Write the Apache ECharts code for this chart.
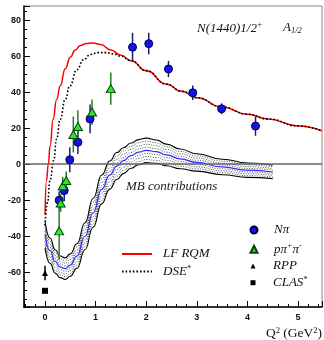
<!DOCTYPE html>
<html><head><meta charset="utf-8">
<script src="https://cdn.jsdelivr.net/npm/echarts@6/dist/echarts.min.js"></script>
<style>html,body{margin:0;padding:0;background:#fff}#c{width:324px;height:340px}</style>
</head><body><div id="c"></div>
<script>
// ---- data ----
const lfRqmQ2 = [0, 0.03, 0.065, 0.1, 0.16, 0.23, 0.3, 0.4, 0.5, 0.6, 0.7, 0.8, 0.95, 1.1, 1.3, 1.5, 1.7, 2.0, 2.4, 2.7, 3.0, 3.5, 4.0, 4.4, 5.0, 5.47];
const lfRqm   = [-28, -9, 0, 10, 25, 36, 43.5, 53, 59.5, 63.5, 66, 67, 67.3, 66.5, 63.5, 60.5, 57.5, 52, 44.5, 40.5, 37, 31.8, 27.8, 25.2, 21.3, 18.6];

const dseQ2 = [0, 0.05, 0.1, 0.17, 0.23, 0.3, 0.4, 0.49, 0.63, 0.76, 0.9, 1.05, 1.2, 1.35, 1.5, 1.7, 2.0, 2.4, 2.7, 3.0, 3.5, 4.0, 4.4, 5.0, 5.47];
const dse   = [-34, -21, -9, 2, 14, 25, 36, 43.5, 52.5, 58, 61, 62, 62, 61.3, 60, 57.5, 52, 44.5, 40.5, 37, 31.8, 27.8, 25.2, 21.3, 18.6];

const mbQ2        = [0, 0.1, 0.2, 0.3, 0.4, 0.5, 0.63, 0.79, 0.95, 1.12, 1.28, 1.42, 1.55, 1.7, 1.85, 2.0, 2.2, 2.4, 2.67, 3.0, 3.5, 4.0, 4.5];
const mbCentral   = [-39, -48, -54, -57, -58, -56, -51, -40, -27, -14, -6, -1, 2, 4.8, 6.7, 7.7, 7, 5.2, 3, 1, -1.5, -3.3, -4.3];
const mbHalfWidth = [7.5, 7, 6.5, 6, 6, 6.2, 6.8, 7.5, 8, 8, 7.8, 7.5, 7.2, 7, 7, 6.8, 6.5, 6, 5.5, 4.8, 4.3, 4, 3.7];

const npiQ2  = [0.28, 0.38, 0.49, 0.65, 0.89, 1.73, 2.05, 2.44, 2.92, 3.49, 4.16];
const npiA   = [-20, -14.6, 2.5, 12.2, 25.2, 65, 67, 52.9, 39.7, 30.8, 21.2];
const npiErr = [5, 6, 7, 6.5, 8, 8, 6, 4.5, 4, 3, 5.4];

const ppipiQ2  = [0.28, 0.31, 0.35, 0.42, 0.56, 0.65, 0.93, 1.30];
const ppipiA   = [-37, -21.5, -12, -9, 16.5, 21, 29, 42];
const ppipiErr = [16, 5, 5, 5, 10, 9, 7, 9];

const rppQ2 = [0];
const rppA = [-60.4];
const rppErr = [4];

const clasQ2 = [0];
const clasA = [-70.3];

// ---- build ----
const pairs = (xs, ys) => xs.map((x, i) => [x, ys[i]]);
const triples = (xs, ys, es) => xs.map((x, i) => [x, ys[i], es[i]]);

const serif = 'Liberation Serif';
const ink = '#111';

const bandSeries = [];
[-1, -0.75, -0.5, -0.25, 0, 0.25, 0.5, 0.75, 1].forEach((f, k) => {
  const outer = Math.abs(f) === 1;
  const centre = f === 0;
  bandSeries.push({
    type: 'line', name: 'mb' + k, silent: true, symbol: 'none', smooth: 0.5, smoothMonotone: 'x', z: 2,
    data: mbQ2.map((q, i) => [q, mbCentral[i] + f * mbHalfWidth[i]]),
    lineStyle: centre ? { color: '#2a2aff', width: 1.2 } :
      outer ? { color: '#000', width: 1.1 } : { color: '#222', width: 0.8, type: [1, 1.5] }
  });
});
bandSeries[0].markLine = {
  silent: true, symbol: 'none', label: { show: false }, animation: false,
  lineStyle: { color: '#666', width: 1.5, type: 'solid' }, data: [{ yAxis: 0 }]
};

function errSeries(name, data, color) {
  return {
    type: 'custom', name, data, z: 4, silent: true, encode: { x: 0, y: 1 },
    renderItem: (params, api) => {
      const x = api.value(0), y = api.value(1), e = api.value(2);
      const a = api.coord([x, y + e]), b = api.coord([x, y - e]);
      return { type: 'line', shape: { x1: a[0], y1: a[1], x2: b[0], y2: b[1] }, style: { stroke: color, lineWidth: 1.5 } };
    }
  };
}

const legendText = () => ({
  fontFamily: serif, fontStyle: 'italic', fontSize: 13, color: ink, lineHeight: 14,
  rich: {
    t: { fontFamily: serif, fontStyle: 'italic', fontSize: 13, color: ink, lineHeight: 14 },
    sup: { fontFamily: serif, fontStyle: 'italic', fontSize: 8, color: ink, lineHeight: 8, verticalAlign: 'top' }
  }
});
const legendFmt = (n) => ({
  'Nπ': '{t|Nπ}', 'pπ+π-': '{t|pπ}{sup|+}{t|π}{sup|-}', 'RPP': '{t|RPP}', 'CLAS*': '{t|CLAS}{sup|*}',
  'LF RQM': '{t|LF RQM}', 'DSE*': '{t|DSE}{sup|*}'
}[n] || n);

const option = {
  animation: false,
  grid: { left: 24, right: 2, top: 6, bottom: 33, show: true, borderColor: '#888', borderWidth: 1, outerBoundsMode: 'none' },
  xAxis: {
    type: 'value', min: -0.415, max: 5.474, splitNumber: 5,
    axisLine: { show: true, onZero: false, lineStyle: { color: '#000', width: 1.5 } },
    axisTick: { inside: true, length: 6, lineStyle: { color: '#000', width: 1 } },
    minorTick: { show: true, splitNumber: 5, length: 3, lineStyle: { color: '#000', width: 1 } },
    splitLine: { show: false },
    axisLabel: { showMinLabel: false, showMaxLabel: false, fontFamily: 'Liberation Sans', fontWeight: 'bold', fontSize: 9, color: ink, margin: 6 },
    name: '{r|Q}{s|2}{r| (GeV}{s|2}{r|)}', nameLocation: 'end', nameGap: 0, nameMoveOverlap: false,
    nameTextStyle: {
      align: 'right', verticalAlign: 'top', padding: [19, 0, 0, 0],
      rich: {
        r: { fontFamily: serif, fontSize: 13.5, color: ink, lineHeight: 14 },
        s: { fontFamily: serif, fontSize: 8.5, color: ink, lineHeight: 8, verticalAlign: 'top' }
      }
    }
  },
  yAxis: {
    type: 'value', min: -79.3, max: 87.9, splitNumber: 8,
    axisLine: { show: true, onZero: false, lineStyle: { color: '#000', width: 1.5 } },
    axisTick: { inside: true, length: 6, lineStyle: { color: '#000', width: 1 } },
    minorTick: { show: true, splitNumber: 4, length: 3, lineStyle: { color: '#000', width: 1 } },
    splitLine: { show: false },
    axisLabel: { showMinLabel: false, showMaxLabel: false, fontFamily: 'Liberation Sans', fontWeight: 'bold', fontSize: 9, color: ink, margin: 3 }
  },
  legend: [
    { data: [{ name: 'LF RQM', itemStyle: { opacity: 0 } }, { name: 'DSE*', itemStyle: { opacity: 0 } }],
      orient: 'vertical', left: 121, top: 247, padding: 0, itemWidth: 30, itemHeight: 10, itemGap: 3.4, selectedMode: false,
      formatter: legendFmt, textStyle: Object.assign(legendText(), { padding: [0, 0, 0, 6] }) },
    { data: ['Nπ', 'pπ+π-'], orient: 'vertical', left: 249.5, top: 223, padding: 0, itemWidth: 7, itemHeight: 7, itemGap: 5.3, selectedMode: false,
      formatter: legendFmt, textStyle: Object.assign(legendText(), { padding: [0, 0, 0, 11.5] }) },
    { data: ['RPP', 'CLAS*'], orient: 'vertical', left: 250.5, top: 259, padding: 0, itemWidth: 5, itemHeight: 5, itemGap: 2.7, selectedMode: false,
      formatter: legendFmt, textStyle: Object.assign(legendText(), { padding: [0, 0, 0, 12.5] }) }
  ],
  graphic: [
    { type: 'text', left: 197, top: 21, silent: true, style: { text: '{m|N(1440)1/2}{s|+}', rich: {
      m: { fontFamily: serif, fontStyle: 'italic', fontSize: 13, fill: ink, lineHeight: 16 },
      s: { fontFamily: serif, fontStyle: 'italic', fontSize: 8, fill: ink, lineHeight: 9, verticalAlign: 'top' } } } },
    { type: 'text', left: 283, top: 21, silent: true, style: { text: '{m|A}{b|1/2}', rich: {
      m: { fontFamily: serif, fontStyle: 'italic', fontSize: 13, fill: ink, lineHeight: 16 },
      b: { fontFamily: serif, fontStyle: 'italic', fontSize: 8.5, fill: ink, lineHeight: 9, verticalAlign: 'bottom' } } } },
    { type: 'text', left: 126, top: 180, silent: true, style: { text: 'MB contributions',
      font: 'italic 13px "Liberation Serif"', fill: '#222' } }
  ],
  series: [
    ...bandSeries,
    { type: 'line', name: 'LF RQM', data: pairs(lfRqmQ2, lfRqm), symbol: 'none', smooth: 0.5, smoothMonotone: 'x', z: 3,
      lineStyle: { color: '#ff0000', width: 1.5 }, itemStyle: { color: '#ff0000' } },
    { type: 'line', name: 'DSE*', data: pairs(dseQ2, dse), symbol: 'none', smooth: 0.5, smoothMonotone: 'x', z: 3,
      lineStyle: { color: '#000', width: 1.6, type: [1.6, 2] }, itemStyle: { color: '#000' } },
    errSeries('npiErr', triples(npiQ2, npiA, npiErr), '#1c1c7a'),
    errSeries('ppipiErr', triples(ppipiQ2, ppipiA, ppipiErr), '#2a7a2a'),
    errSeries('rppErr', triples(rppQ2, rppA, rppErr), '#000'),
    { type: 'scatter', name: 'Nπ', data: pairs(npiQ2, npiA), symbol: 'circle', symbolSize: 8, z: 5,
      itemStyle: { color: '#1212f0', borderColor: '#000040', borderWidth: 1, opacity: 1 } },
    { type: 'scatter', name: 'pπ+π-', data: pairs(ppipiQ2, ppipiA), symbol: 'triangle', symbolSize: [9, 8], z: 5,
      itemStyle: { color: '#22ee22', borderColor: '#0a400a', borderWidth: 1, opacity: 1 } },
    { type: 'scatter', name: 'RPP', data: pairs(rppQ2, rppA), symbol: 'triangle', symbolSize: 6, z: 5,
      itemStyle: { color: '#000', opacity: 1 } },
    { type: 'scatter', name: 'CLAS*', data: pairs(clasQ2, clasA), symbol: 'rect', symbolSize: 6, z: 5,
      itemStyle: { color: '#000', opacity: 1 } }
  ]
};
const chart = echarts.init(document.getElementById('c'), null, { renderer: 'canvas' });
chart.setOption(option);
</script>
</body></html>
